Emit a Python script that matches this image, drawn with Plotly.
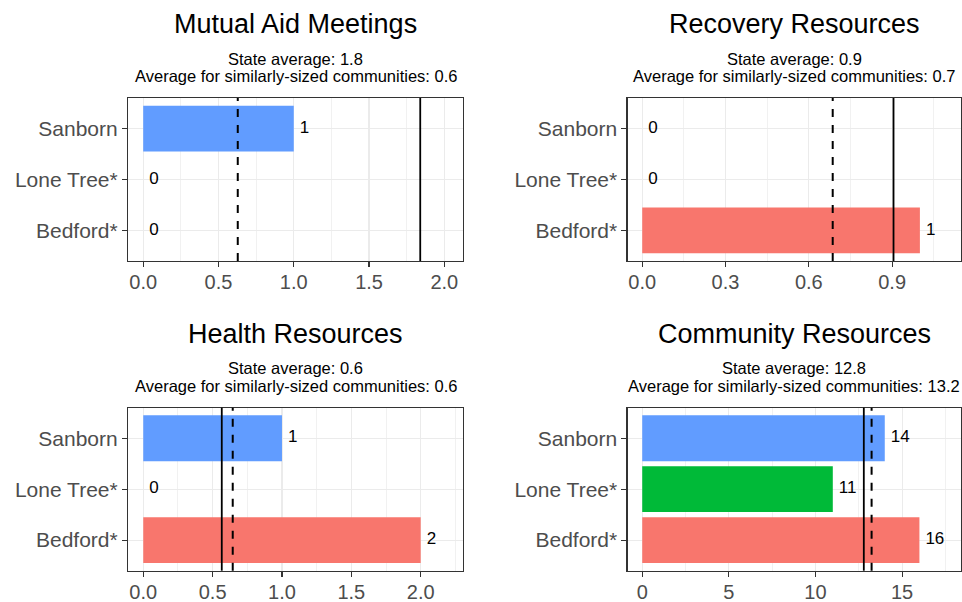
import plotly.graph_objects as go

# ---------------- data ----------------
titles = ["Mutual Aid Meetings", "Recovery Resources", "Health Resources", "Community Resources"]
communities = ["Bedford*", "Lone Tree*", "Sanborn"]
bar_colors = ["#F8766D", "#00BA38", "#619CFF"]

mutual_aid = [0, 0, 1]
recovery = [1, 0, 0]
health = [2, 0, 1]
community_res = [16, 11, 14]
panel_values = [mutual_aid, recovery, health, community_res]

state_avg = [1.84, 0.905, 0.566, 12.79]
similar_avg = [0.628, 0.686, 0.645, 13.24]

x_dticks = [0.5, 0.3, 0.5, 5]
x_ranges = [[-0.101, 2.124], [-0.053, 1.148], [-0.11, 2.305], [-0.85, 18.4]]

# ---------------- layout geometry ----------------
W, H = 962, 602
FONT = "Liberation Sans, Arial, sans-serif"


def px(x):
    return x / W


def py(y):
    return 1 - y / H


panel_px = [  # (x0, x1, y_top, y_bottom) in pixels
    (128, 463, 98, 261),
    (627.5, 961, 98, 261),
    (128, 463, 407.7, 570.7),
    (627.5, 961, 407.7, 570.7),
]

fig = go.Figure()
layout_axes = {}
annotations = []
shapes = []

for i in range(4):
    ax = "" if i == 0 else str(i + 1)
    xref = "x" + ax
    yref = "y" + ax
    vals = panel_values[i]
    x0, x1, yt, yb = panel_px[i]

    fig.add_trace(go.Bar(
        x=vals, y=communities, orientation="h",
        marker=dict(color=bar_colors, line=dict(width=0)),
        width=0.9, xaxis=xref, yaxis=yref, showlegend=False, hoverinfo="x+y",
    ))
    fig.add_trace(go.Scatter(
        x=vals, y=communities, mode="markers+text", text=[str(v) for v in vals],
        textposition="middle right",
        marker=dict(size=8, opacity=0),
        textfont=dict(family=FONT, size=17, color="black"),
        xaxis=xref, yaxis=yref, showlegend=False, hoverinfo="skip",
    ))

    common_x = dict(
        domain=[px(x0), px(x1)], anchor=yref, range=x_ranges[i],
        dtick=x_dticks[i], tick0=0, tickformat=(".1f" if x_dticks[i] < 1 else "d"),
        showgrid=True, gridcolor="#EBEBEB", gridwidth=1.1,
        minor=dict(dtick=x_dticks[i] / 2, tick0=0, showgrid=True,
                   gridcolor="#EBEBEB", gridwidth=0.7, ticklen=0),
        zeroline=False, showline=True, linecolor="#333333", linewidth=1.1, mirror=True,
        ticks="outside", ticklen=5, tickwidth=1.1, tickcolor="#333333",
        ticklabelstandoff=-2,
        tickfont=dict(family=FONT, size=20, color="#4D4D4D"),
        fixedrange=True,
    )
    common_y = dict(
        domain=[py(yb), py(yt)], anchor=xref,
        type="category", categoryorder="array", categoryarray=communities,
        range=[-0.6, 2.6],
        showgrid=True, gridcolor="#EBEBEB", gridwidth=1.1,
        zeroline=False, showline=True, linecolor="#333333", linewidth=1.1, mirror=True,
        ticks="outside", ticklen=5, tickwidth=1.1, tickcolor="#333333",
        tickfont=dict(family=FONT, size=21, color="#4D4D4D"),
        fixedrange=True,
    )
    layout_axes["xaxis" + ax] = common_x
    layout_axes["yaxis" + ax] = common_y

    # reference lines
    shapes.append(dict(type="line", xref=xref, yref=yref + " domain",
                       x0=state_avg[i], x1=state_avg[i], y0=0, y1=1,
                       line=dict(color="black", width=1.8)))
    shapes.append(dict(type="line", xref=xref, yref=yref + " domain",
                       x0=similar_avg[i], x1=similar_avg[i], y0=0, y1=1,
                       line=dict(color="black", width=2, dash="8px,8px")))

    # titles and subtitles
    cx = px((x0 + x1) / 2)
    dy = yt - 98
    annotations.append(dict(text=titles[i], x=cx, y=py(24.5 + dy),
                            xref="paper", yref="paper", xanchor="center", yanchor="middle",
                            showarrow=False, font=dict(family=FONT, size=27, color="black")))
    annotations.append(dict(text=f"State average: {state_avg[i]:.1f}", x=cx, y=py(58.5 + dy),
                            xref="paper", yref="paper", xanchor="center", yanchor="middle",
                            showarrow=False, font=dict(family=FONT, size=16.5, color="black")))
    annotations.append(dict(text=f"Average for similarly-sized communities: {similar_avg[i]:.1f}",
                            x=cx, y=py(76.5 + dy),
                            xref="paper", yref="paper", xanchor="center", yanchor="middle",
                            showarrow=False, font=dict(family=FONT, size=16.5, color="black")))

fig.update_layout(
    width=W, height=H, margin=dict(l=0, r=0, t=0, b=0),
    paper_bgcolor="white", plot_bgcolor="white",
    font=dict(family=FONT), annotations=annotations, shapes=shapes,
    bargap=0.1, showlegend=False,
    **layout_axes,
)

# remove the default 8px page margin so the figure fills the window exactly
fig.write_html(
    "out.html",
    config={"displayModeBar": False, "staticPlot": True},
    post_script="document.body.style.margin='0';document.body.style.overflow='hidden';",
)
